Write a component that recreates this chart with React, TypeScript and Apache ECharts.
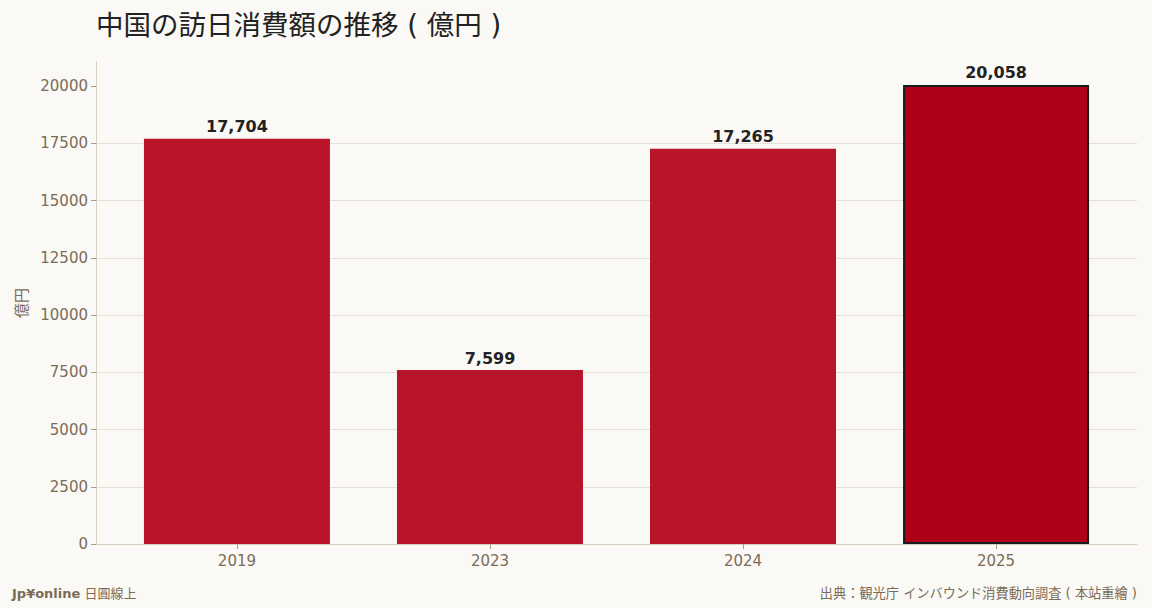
import { useEffect, useRef } from 'react'
import * as echarts from 'echarts'

const years = ['2019', '2023', '2024', '2025']
const spending = [17704, 7599, 17265, 20058]
const yTicks = [0, 2500, 5000, 7500, 10000, 12500, 15000, 17500, 20000]

const BG = '#FAF9F5'
const MUTED = '#7A6C58'
const BAR = '#B8152B'
const BAR_LAST = '#B00018'
const FONT = '"DejaVu Sans", "Noto Sans CJK JP", sans-serif'
const CJK = '"Noto Sans CJK JP", "DejaVu Sans", sans-serif'

export default function App() {
  const ref = useRef<HTMLDivElement>(null)

  useEffect(() => {
    if (!ref.current) return
    const chart = echarts.init(ref.current, undefined, { renderer: 'svg' })
    const last = spending.length - 1
    const xIdx = years.map((_, i) => i)

    const option: echarts.EChartsOption = {
      animation: false,
      backgroundColor: BG,
      textStyle: { fontFamily: FONT },
      grid: { left: 96, right: 15, top: 62, bottom: 64 },
      title: {
        text: '中国の訪日消費額の推移 ( 億円 )',
        left: 91,
        top: 6,
        textStyle: { fontSize: 27.5, fontWeight: 'normal', color: '#222222', fontFamily: FONT },
      },
      graphic: [
        {
          type: 'text',
          left: 12,
          top: 587,
          style: {
            text: '{b|Jp¥online} 日圓線上',
            rich: {
              b: { fontWeight: 'bold', fontSize: 13, fill: MUTED, fontFamily: FONT },
            },
            fill: MUTED,
            font: `13px ${FONT}`,
          },
        },
        {
          type: 'text',
          right: 15,
          top: 587,
          style: {
            text: '出典：観光庁 インバウンド消費動向調査 ( 本站重繪 )',
            fill: MUTED,
            font: `13.2px ${FONT}`,
          },
        },
      ],
      xAxis: {
        type: 'value',
        min: -0.557,
        max: 3.557,
        splitLine: { show: false },
        axisLine: { show: true, onZero: false, lineStyle: { color: '#D6CFC0' } },
        axisTick: {
          show: true,
          length: 5,
          lineStyle: { color: '#A89C88' },
          customValues: xIdx,
        },
        axisLabel: {
          color: MUTED,
          fontSize: 15,
          margin: 9,
          fontFamily: FONT,
          customValues: xIdx,
          formatter: (v: number) => years[Math.round(v)] ?? '',
        },
      },
      yAxis: {
        type: 'value',
        min: 0,
        max: Math.round(spending[last] * 1.05),
        interval: 2500,
        name: '億円',
        nameLocation: 'middle',
        nameRotate: 90,
        nameGap: 68,
        nameTextStyle: { color: MUTED, fontSize: 15, fontFamily: CJK },
        axisLine: { show: true, onZero: false, lineStyle: { color: '#D6CFC0' } },
        axisTick: {
          show: true,
          length: 5,
          lineStyle: { color: '#A89C88' },
          customValues: yTicks,
        },
        axisLabel: {
          color: MUTED,
          fontSize: 15,
          margin: 8,
          fontFamily: FONT,
          customValues: yTicks,
          formatter: (v: number) => String(v),
        },
        splitLine: { showMaxLine: false, lineStyle: { color: '#E6E0D4' } },
      },
      series: [
        {
          type: 'bar',
          barWidth: 186,
          data: spending.map((v, i) => ({
            value: [i, v],
            itemStyle:
              i === last
                ? { color: BAR_LAST, borderColor: '#1A1A1A', borderWidth: 2 }
                : { color: BAR },
          })),
          label: {
            show: true,
            position: 'top',
            distance: 4,
            color: '#222222',
            fontSize: 16,
            fontWeight: 'bold',
            fontFamily: FONT,
            formatter: (p: any) => Number(p.value[1]).toLocaleString('en-US'),
          },
        },
      ],
    }

    chart.setOption(option)
    return () => chart.dispose()
  }, [])

  return (
    <div
      ref={ref}
      style={{ position: 'fixed', left: 0, top: 0, width: 1152, height: 608 }}
    />
  )
}
